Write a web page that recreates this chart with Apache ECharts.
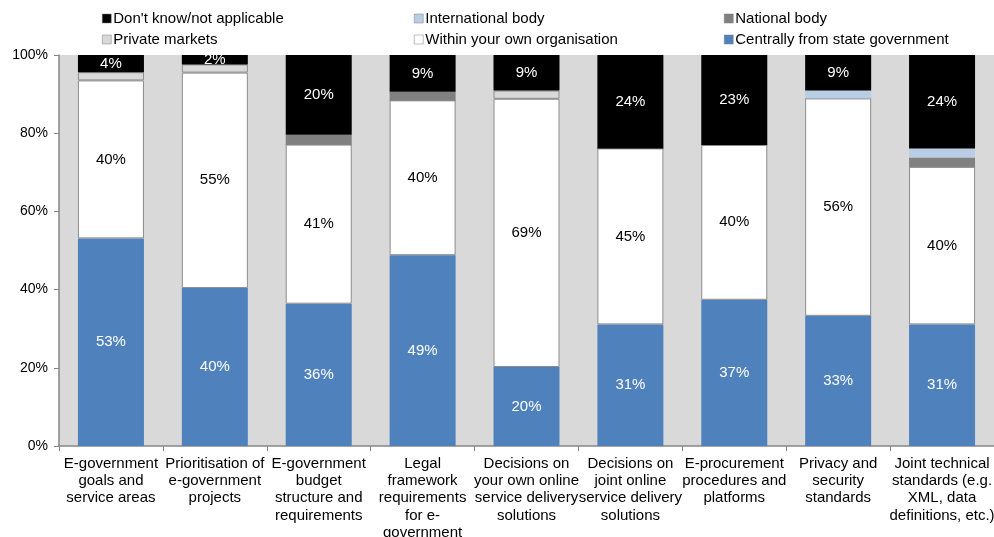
<!DOCTYPE html>
<html><head><meta charset="utf-8">
<script src="https://cdn.jsdelivr.net/npm/echarts@6/dist/echarts.min.js"></script>
<style>html,body{margin:0;padding:0;background:#fff}#c{width:994px;height:537px}</style>
</head><body><div id="c"></div>
<script>
var categories = [
  "E-government\ngoals and\nservice areas",
  "Prioritisation of\ne-government\nprojects",
  "E-government\nbudget\nstructure and\nrequirements",
  "Legal\nframework\nrequirements\nfor e-\ngovernment",
  "Decisions on\nyour own online\nservice delivery\nsolutions",
  "Decisions on\njoint online\nservice delivery\nsolutions",
  "E-procurement\nprocedures and\nplatforms",
  "Privacy and\nsecurity\nstandards",
  "Joint technical\nstandards (e.g.\nXML, data\ndefinitions, etc.)"
];
var centrally     = [53.1, 40.4, 36.4, 48.8, 20.2, 31.1, 37.4, 33.3, 31.1];
var withinOwn     = [40.4, 55.1, 40.7, 39.6, 68.6, 45.0, 39.6, 55.6, 40.3];
var privateMkts   = [2.1, 2.1, 0, 0, 2.1, 0, 0, 0, 0];
var nationalBody  = [0, 0, 2.5, 2.2, 0, 0, 0, 0, 2.4];
var intlBody      = [0, 0, 0, 0, 0, 0, 0, 2.0, 2.3];
var dontKnow      = [4.4, 2.4, 20.4, 9.4, 9.1, 23.9, 23.0, 9.1, 23.9];
var yTicks = [0, 20, 40, 60, 80, 100];

var FONT = 'Liberation Sans, Arial, sans-serif';
function lbl(color){
  return {show:true, position:'inside', color:color, fontFamily:FONT, fontSize:15,
    formatter:function(p){return p.value>0 ? Math.round(p.value)+'%' : '';}};
}
var names = ["Centrally from state government","Within your own organisation","Private markets","National body","International body","Don't know/not applicable"];
var series = [
  {name:names[0], data:centrally, itemStyle:{color:'#4F81BD'}, label:lbl('#fff')},
  {name:names[1], data:withinOwn, itemStyle:{color:'#FFFFFF', borderColor:'#8C8C8C', borderWidth:1}, label:lbl('#000')},
  {name:names[2], data:privateMkts, itemStyle:{color:'#D9D9D9', borderColor:'#8C8C8C', borderWidth:1}},
  {name:names[3], data:nationalBody, itemStyle:{color:'#808080'}},
  {name:names[4], data:intlBody, itemStyle:{color:'#B9CDE5'}},
  {name:names[5], data:dontKnow, itemStyle:{color:'#000000'}, label:lbl('#fff')}
].map(function(s){ s.type='bar'; s.stack='t'; s.barWidth=66; s.emphasis={disabled:true}; return s; });

function leg(name, left, top){
  return {data:[name], left:left, top:top, itemWidth:9, itemHeight:9, icon:'rect', padding:0,
    textStyle:{fontFamily:FONT, fontSize:15, color:'#000', padding:[0,0,0,-3]}, selectedMode:false,
    itemStyle:{borderColor:'#7F7F7F', borderWidth:0.5}};
}
var chart = echarts.init(document.getElementById('c'));
chart.setOption({
  animation:false,
  backgroundColor:'#fff',
  legend:[
    leg(names[5], 102, 11), leg(names[4], 414, 11), leg(names[3], 724, 11),
    leg(names[2], 102, 32), leg(names[1], 414, 32), leg(names[0], 724, 32)
  ],
  grid:{left:59, right:0, top:55, bottom:91, show:true, backgroundColor:'#D9D9D9', borderWidth:0,
    containLabel:false, outerBoundsMode:'none'},
  xAxis:{type:'category', data:categories,
    axisLine:{lineStyle:{color:'#868686', width:1.5}},
    axisTick:{show:true, length:5, lineStyle:{color:'#868686'}},
    axisLabel:{interval:0, color:'#000', fontFamily:FONT, fontSize:15, lineHeight:17.3, margin:9}},
  yAxis:{type:'value', min:0, max:100, interval:20,
    axisLine:{show:true, lineStyle:{color:'#868686', width:1.5}},
    axisTick:{show:true, length:5, lineStyle:{color:'#868686'}},
    splitLine:{show:false},
    axisLabel:{color:'#000', fontFamily:FONT, fontSize:14, margin:11,
      formatter:function(v){return yTicks.indexOf(v)>=0 ? v+'%' : '';}}},
  series:series
});
</script></body></html>
